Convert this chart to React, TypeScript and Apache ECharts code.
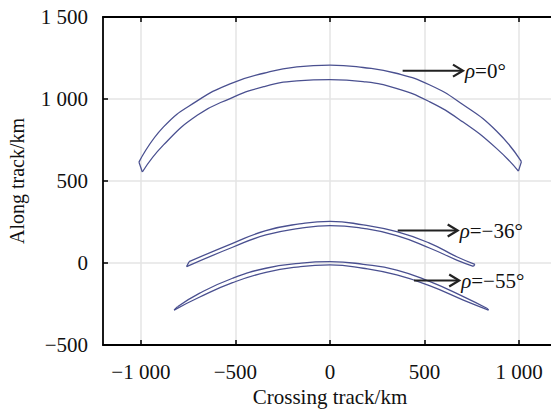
import React, { useEffect, useRef } from 'react';
import * as echarts from 'echarts';

const FONT = '"Liberation Serif", "Times New Roman", serif';

// Axis ranges / ticks
const xMin = -1200;
const xMax = 1200;
const xTicks = [-1000, -500, 0, 500, 1000];
const yMin = -500;
const yMax = 1500;
const yInterval = 500;

// Band rho = 0°
const b0UpperX = [-1010, -880, -700, -525, -350, -175, 0, 175, 350, 525, 700, 880, 1012];
const b0UpperY = [615, 830, 990, 1094, 1157, 1196, 1207, 1192, 1157, 1087, 968, 805, 618];
const b0LowerX = [-992, -880, -700, -525, -350, -175, 0, 175, 350, 525, 700, 880, 996];
const b0LowerY = [555, 720, 902, 1004, 1075, 1110, 1118, 1106, 1065, 984, 862, 699, 560];

// Band rho = -36°
const b36UpperX = [-745, -515, -339, -162, 0, 176, 353, 529, 670, 766];
const b36UpperY = [8, 120, 197, 238, 254, 232, 191, 120, 38, -8];
const b36LowerX = [-758, -515, -339, -162, 0, 176, 353, 529, 670, 758];
const b36LowerY = [-22, 96, 171, 211, 228, 211, 167, 90, 18, -20];

// Band rho = -55°
const b55UpperX = [-806, -691, -515, -339, -162, 0, 176, 353, 529, 705, 829];
const b55UpperY = [-267, -185, -93, -32, -2, 8, -8, -43, -114, -205, -276];
const b55LowerX = [-824, -691, -515, -339, -162, 0, 176, 353, 529, 705, 838];
const b55LowerY = [-287, -209, -120, -57, -23, -12, -32, -73, -140, -226, -287];

// Arrows and labels
const arrowStartX = [384, 358, 444];
const arrowEndX = [703, 675, 683];
const arrowY = [1173, 198, -107];
const arrowLabels = ['0°', '−36°', '−55°'];

const xTitle = 'Crossing track/km';
const yTitle = 'Along track/km';

const bands = [
  [b0UpperX, b0UpperY, b0LowerX, b0LowerY],
  [b36UpperX, b36UpperY, b36LowerX, b36LowerY],
  [b55UpperX, b55UpperY, b55LowerX, b55LowerY],
];

function zip(xs: number[], ys: number[]) {
  return xs.map((x, i) => [x, ys[i]]);
}

function fmt(v: number) {
  const s = Math.abs(v).toString().replace(/\B(?=(\d{3})+(?!\d))/g, ' ');
  return (v < 0 ? '−' : '') + s;
}

const LINE_COLOR = '#4a5090';

export default function App() {
  const ref = useRef<HTMLDivElement>(null);
  useEffect(() => {
    if (!ref.current) return;
    const chart = echarts.init(ref.current, undefined, { renderer: 'svg' });
    const lineStyle = { color: LINE_COLOR, width: 1.3 };
    const curveSeries: any[] = [];
    const caps: any[] = [];
    bands.forEach(([ux, uy, lx, ly]) => {
      curveSeries.push({
        type: 'line', data: zip(ux, uy), smooth: 0.5,
        symbol: 'none', silent: true, lineStyle, z: 3,
      });
      curveSeries.push({
        type: 'line', data: zip(lx, ly), smooth: 0.5,
        symbol: 'none', silent: true, lineStyle, z: 3,
      });
      caps.push([ux[0], uy[0]], [lx[0], ly[0]], '-');
      caps.push([ux[ux.length - 1], uy[uy.length - 1]], [lx[lx.length - 1], ly[ly.length - 1]], '-');
    });
    const option: any = {
      animation: false,
      backgroundColor: '#fff',
      grid: { left: 103, top: 17, bottom: 65, right: -6, containLabel: false, outerBoundsMode: 'none' },
      xAxis: [
        {
          type: 'value',
          min: xMin,
          max: xMax,
          position: 'bottom',
          name: xTitle,
          nameLocation: 'middle',
          nameGap: 39,
          nameTextStyle: { fontFamily: FONT, fontSize: 21, color: '#111' },
          axisLine: { show: true, onZero: false, lineStyle: { color: '#000', width: 1.8 } },
          axisTick: { show: true, inside: true, length: 5, customValues: xTicks, lineStyle: { color: '#000', width: 1.5 } },
          axisLabel: {
            fontFamily: FONT,
            fontSize: 21,
            color: '#111',
            margin: 16,
            customValues: xTicks,
            formatter: fmt,
          },
          splitLine: { show: true, lineStyle: { color: '#e4e4e4', width: 1.5 } },
        },
        {
          type: 'value',
          min: xMin,
          max: xMax,
          position: 'top',
          axisLine: { show: true, onZero: false, lineStyle: { color: '#000', width: 1.8 } },
          axisTick: { show: true, inside: true, length: 5, customValues: xTicks, lineStyle: { color: '#000', width: 1.5 } },
          axisLabel: { show: false, customValues: xTicks },
          splitLine: { show: false },
        },
      ],
      yAxis: {
        type: 'value',
        min: yMin,
        max: yMax,
        interval: yInterval,
        name: yTitle,
        nameLocation: 'middle',
        nameRotate: 90,
        nameGap: 76,
        nameTextStyle: { fontFamily: FONT, fontSize: 20, color: '#111' },
        axisLine: { show: true, onZero: false, lineStyle: { color: '#000', width: 1.8 } },
        axisTick: { show: true, inside: true, length: 5, lineStyle: { color: '#000', width: 1.5 } },
        axisLabel: { fontFamily: FONT, fontSize: 21, color: '#111', margin: 15, formatter: fmt },
        splitLine: { show: true, lineStyle: { color: '#e4e4e4', width: 1.5 } },
      },
      series: [
        ...curveSeries,
        {
          type: 'line', data: caps, symbol: 'none', silent: true, connectNulls: false,
          lineStyle, z: 3,
        },
        {
          type: 'custom',
          silent: true,
          z: 5,
          encode: { x: [0, 1], y: 2 },
          data: arrowStartX.map((x, i) => [x, arrowEndX[i], arrowY[i]]),
          renderItem: (params: any, api: any) => {
            const y = api.value(2);
            const p0 = api.coord([api.value(0), y]);
            const p1 = api.coord([api.value(1), y]);
            const label = arrowLabels[params.dataIndex];
            return {
              type: 'group',
              children: [
                {
                  type: 'line',
                  shape: { x1: p0[0], y1: p0[1], x2: p1[0] - 1, y2: p1[1] },
                  style: { stroke: '#222', lineWidth: 2 },
                },
                {
                  type: 'polyline',
                  shape: {
                    points: [
                      [p1[0] - 10, p1[1] - 6],
                      [p1[0], p1[1]],
                      [p1[0] - 10, p1[1] + 6],
                    ],
                  },
                  style: { stroke: '#222', lineWidth: 2.2, fill: 'none' },
                },
                {
                  type: 'text',
                  x: p1[0] + 2,
                  y: p1[1],
                  style: {
                    text: '{i|ρ}=' + label,
                    rich: { i: { fontStyle: 'italic', fontFamily: FONT, fontSize: 21, fill: '#111' } },
                    fontFamily: FONT,
                    fontSize: 21,
                    fill: '#111',
                    verticalAlign: 'middle',
                    align: 'left',
                  },
                },
              ],
            };
          },
        },
      ],
    };
    chart.setOption(option);
    return () => chart.dispose();
  }, []);
  return (
    <div
      ref={ref}
      style={{ position: 'fixed', left: 0, top: 0, width: 551, height: 410 }}
    />
  );
}
